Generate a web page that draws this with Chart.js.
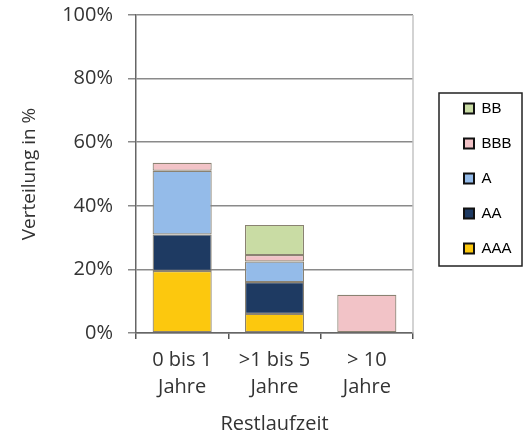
<!DOCTYPE html>
<html>
<head>
<meta charset="utf-8">
<script src="https://cdn.jsdelivr.net/npm/chart.js@4/dist/chart.umd.min.js"></script>
<style>
  html, body { margin: 0; padding: 0; background: #fff; }
  canvas { display: block; }
</style>
</head>
<body>
<canvas id="ratingChart" width="526" height="436"></canvas>
<script>
// categories (remaining term)
const categories = [["0 bis 1", "Jahre"], [">1 bis 5", "Jahre"], ["> 10", "Jahre"]];

// share per rating class in %
const aaa = [19.5, 6, 0];
const aa = [11.5, 10, 0];
const a = [20, 6.5, 0];
const bbb = [2.5, 2, 12];
const bb = [0, 9.5, 0];

const yTicks = [0, 20, 40, 60, 80, 100];

// legend box: reserve width on the right and draw the frame
const frame = { top: 93, bottom: 266 };
const legendFrame = {
  id: "legendFrame",
  beforeInit(chart) {
    const fit = chart.legend.fit;
    chart.legend.fit = function () {
      fit.call(this);
      this.width = 113;
    };
  },
  afterLayout(chart) {
    const lg = chart.legend;
    lg.left = chart.chartArea.right + 31;
    lg.right = lg.left + 78;
    lg.top = 40;
    lg.bottom = 317;
  },
  afterDraw(chart) {
    const ctx = chart.ctx;
    const lg = chart.legend;
    const area = chart.chartArea;
    ctx.save();
    // right border of the plot
    ctx.strokeStyle = "#c4c4c4";
    ctx.lineWidth = 1.5;
    ctx.beginPath();
    ctx.moveTo(area.right, area.top);
    ctx.lineTo(area.right, area.bottom);
    ctx.stroke();
    // legend frame
    ctx.strokeStyle = "#222";
    ctx.lineWidth = 1.5;
    ctx.strokeRect(lg.left - 5, frame.top, lg.right - lg.left + 5, frame.bottom - frame.top);
    ctx.restore();
  },
};

const ctx = document.getElementById("ratingChart").getContext("2d");
const chart = new Chart(ctx, {
  type: "bar",
  data: {
    labels: categories,
    datasets: [
      { label: "AAA", data: aaa, backgroundColor: "#fcc80e" },
      { label: "AA", data: aa, backgroundColor: "#1e3a62" },
      { label: "A", data: a, backgroundColor: "#94bbe9" },
      { label: "BBB", data: bbb, backgroundColor: "#f2c3c7" },
      { label: "BB", data: bb, backgroundColor: "#c9dca4" },
    ],
  },
  options: {
    responsive: false,
    animation: false,
    layout: { padding: { top: 1, right: 0, bottom: 0, left: 0 } },
    datasets: {
      bar: {
        categoryPercentage: 1,
        barPercentage: 0.64,
        borderColor: "#8a8272",
        borderWidth: 1.2,
        borderSkipped: false,
      },
    },
    scales: {
      x: {
        stacked: true,
        grid: {
          offset: true,
          drawOnChartArea: false,
          tickLength: 6,
          color: "#555",
          lineWidth: 1.5,
        },
        border: { color: "#666", width: 1.5 },
        ticks: {
          padding: 8,
          color: "#333",
          font: { family: "'Open Sans'", size: 20, lineHeight: 1.35 },
        },
        title: {
          display: true,
          text: "Restlaufzeit",
          color: "#333",
          font: { family: "'Open Sans'", size: 20 },
          padding: { top: 3, bottom: 0 },
        },
      },
      y: {
        stacked: true,
        min: 0,
        max: 100,
        afterBuildTicks: (scale) => {
          scale.ticks = yTicks.map((v) => ({ value: v }));
        },
        afterFit: (scale) => {
          scale.paddingTop = 15;
          scale.width = 136;
        },
        grid: { color: "#8a8a8a", lineWidth: 1.5, tickLength: 8 },
        border: { color: "#666", width: 1.5 },
        ticks: {
          padding: 15,
          color: "#333",
          font: { family: "'Open Sans'", size: 20 },
          callback: (v) => v + "%",
        },
        title: {
          display: true,
          text: "Verteilung in %",
          color: "#333",
          font: { family: "'Open Sans'", size: 19 },
          padding: { top: 18, bottom: 20 },
        },
      },
    },
    plugins: {
      legend: {
        position: "right",
        reverse: true,
        labels: {
          boxWidth: 10,
          boxHeight: 10,
          padding: 20,
          color: "#222",
          font: { family: "'Liberation Sans'", size: 15 },
          generateLabels: (chart) =>
            chart.data.datasets.map((ds, i) => ({
              text: ds.label,
              fillStyle: ds.backgroundColor,
              strokeStyle: "#111",
              lineWidth: 2,
              datasetIndex: i,
              hidden: false,
            })),
        },
      },
      tooltip: { enabled: false },
    },
  },
  plugins: [legendFrame],
});
</script>
</body>
</html>
